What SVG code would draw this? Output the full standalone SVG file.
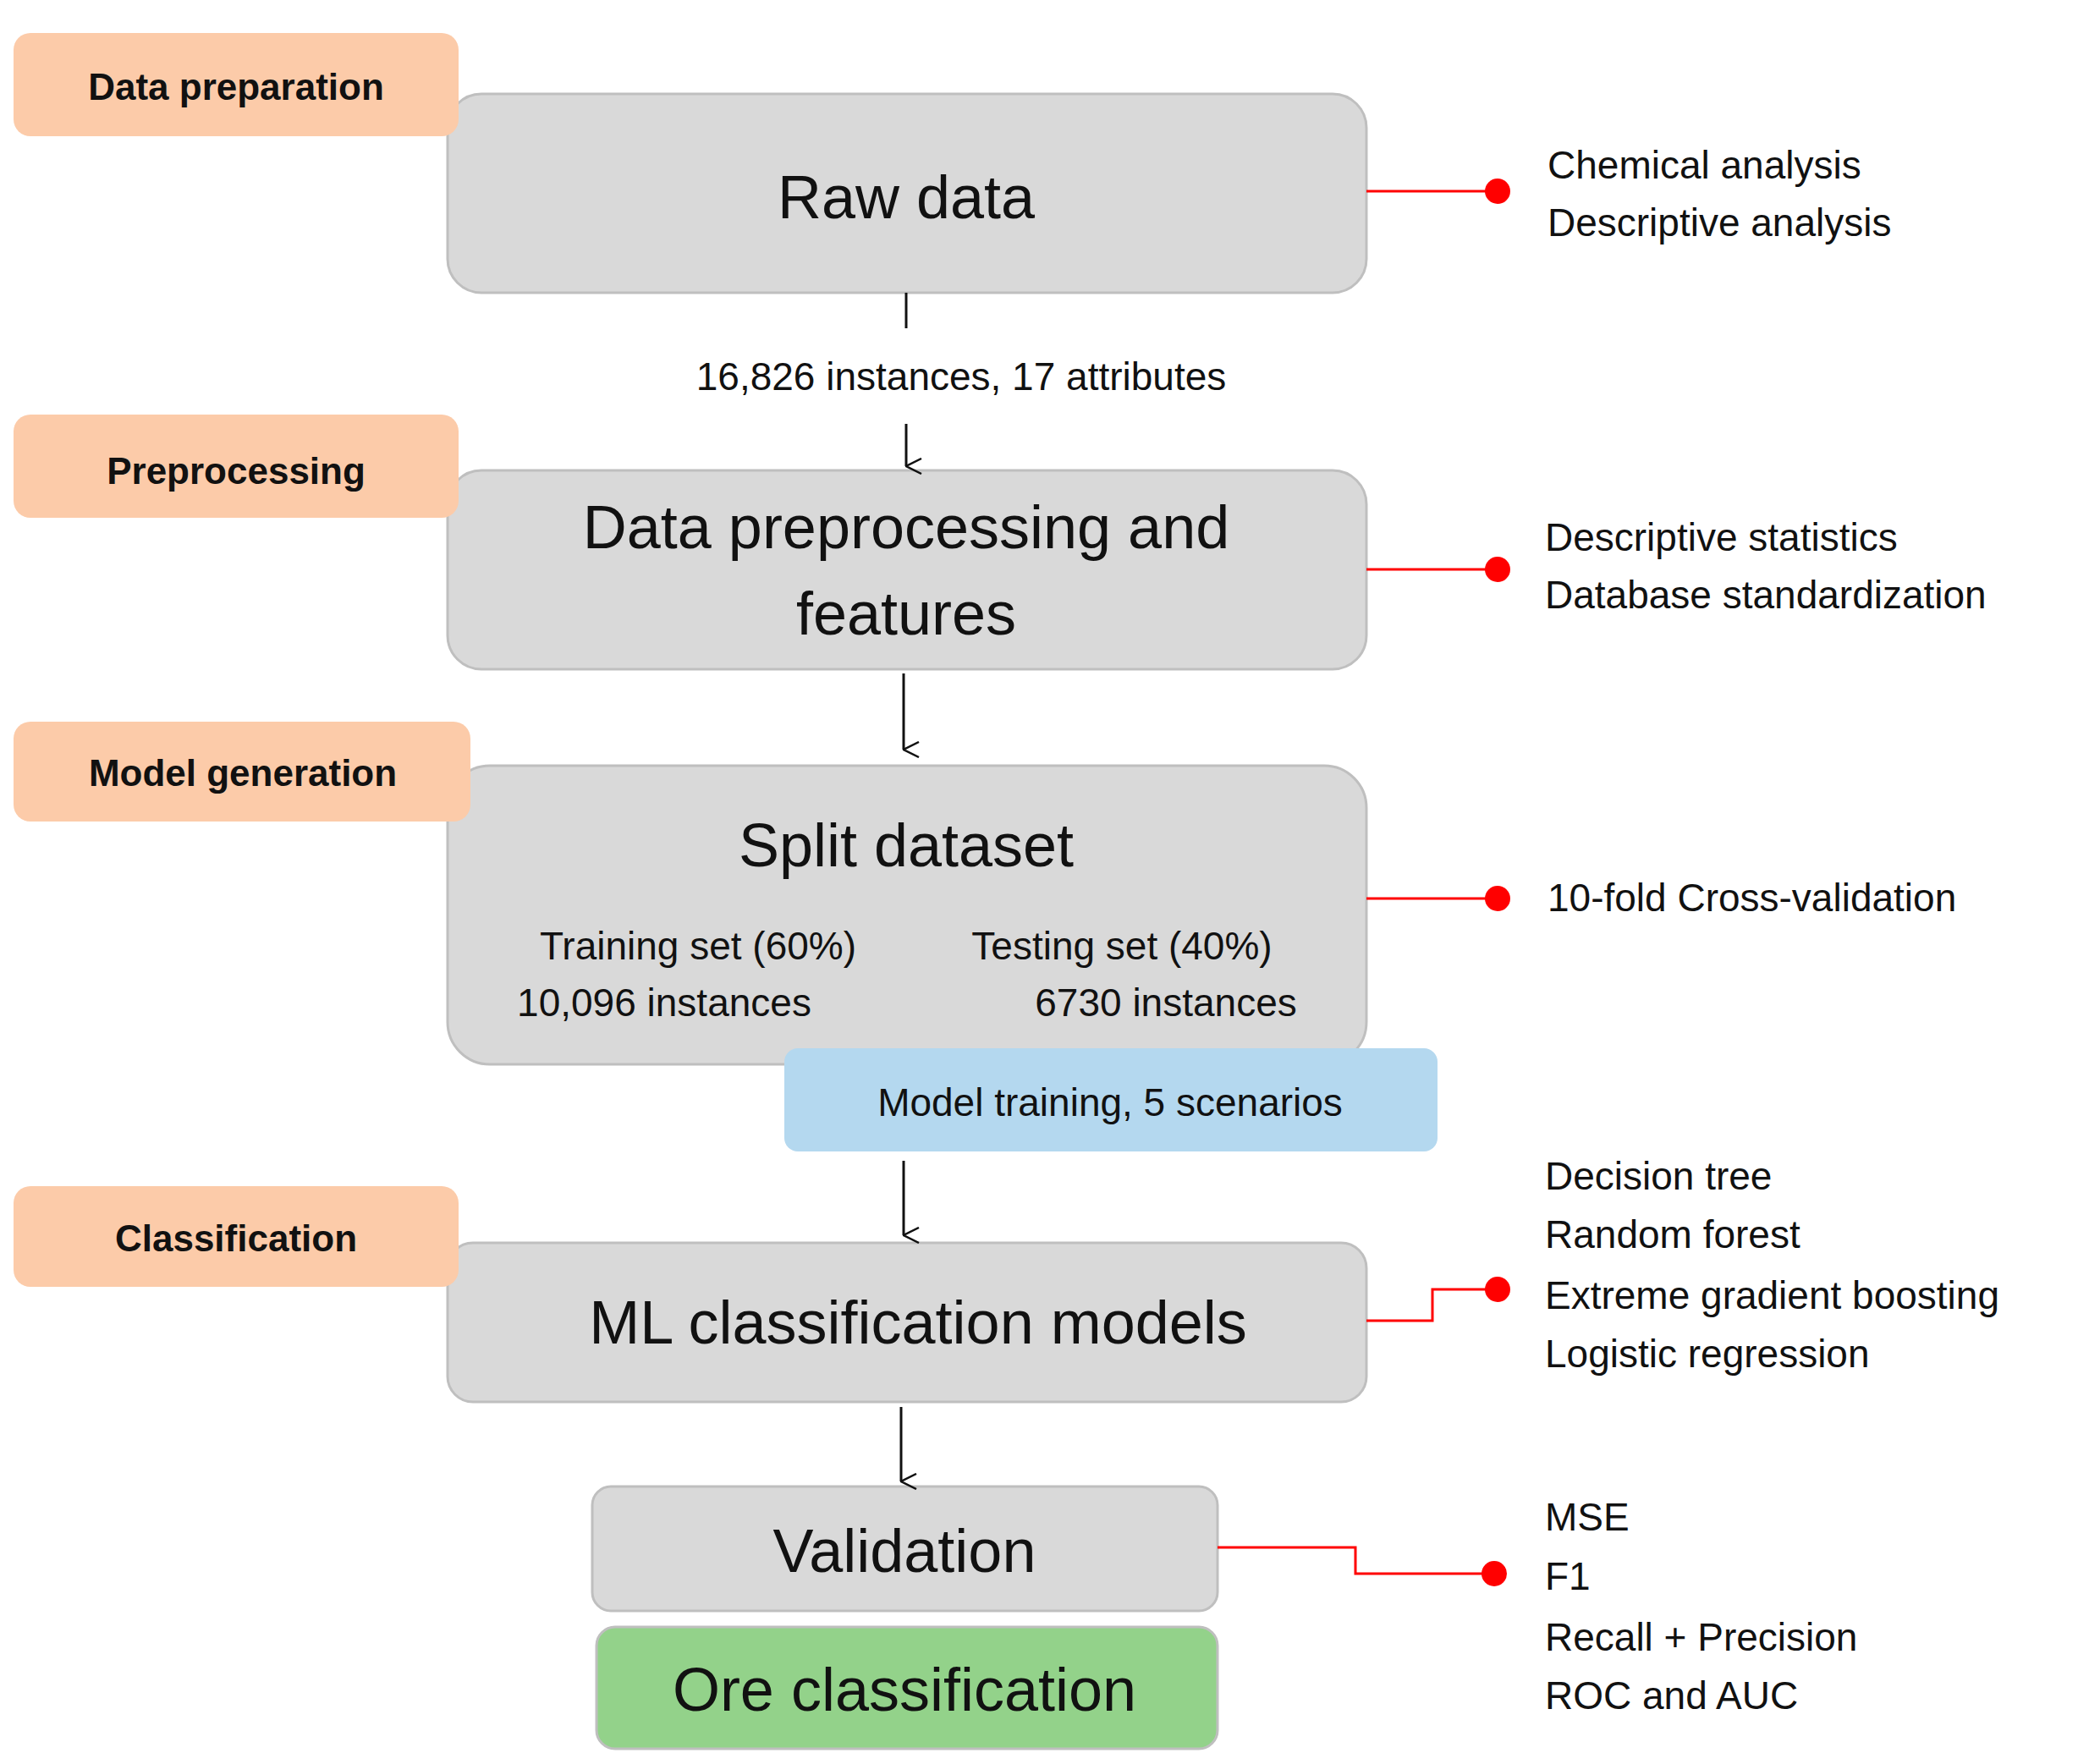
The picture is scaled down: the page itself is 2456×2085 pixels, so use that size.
<svg xmlns="http://www.w3.org/2000/svg" width="2456" height="2085" viewBox="0 0 2456 2085">
<defs>
<style>
text{font-family:"Liberation Sans",Arial,sans-serif;fill:#111}
.lab rect{fill:#FCCBA9}
.lab text{font-weight:bold;font-size:44px;text-anchor:middle}
.box{fill:#D9D9D9;stroke:#BFBFBF;stroke-width:3}
.big{font-size:72px;text-anchor:middle}
.mid{font-size:46px}
.side{font-size:46px}
.red{fill:none;stroke:#FF0000;stroke-width:3}
.dot{fill:#FF0000}
.blk{fill:none;stroke:#111;stroke-width:3}
</style>
<marker id="ar" viewBox="0 0 20 20" refX="10" refY="19" markerWidth="20" markerHeight="20" markerUnits="userSpaceOnUse" orient="auto-start-reverse">
<path d="M1 1 L10 19 L19 1" fill="none" stroke="#111" stroke-width="2.5"/>
</marker>
</defs>
<rect width="2456" height="2085" fill="#fff"/>
<g id="raw"><rect class="box" x="529" y="111" width="1086" height="235" rx="40"/><text class="big" x="1071" y="258">Raw data</text></g>
<g id="prep"><rect class="box" x="529" y="556" width="1086" height="235" rx="40"/><text class="big" x="1071" y="648">Data preprocessing and</text><text class="big" x="1071" y="750">features</text></g>
<g id="split"><rect class="box" x="529" y="905" width="1086" height="353" rx="50"/><text class="big" x="1071" y="1024">Split dataset</text>
<text class="mid" x="825" y="1134" text-anchor="middle">Training set (60%)</text><text class="mid" x="785" y="1201" text-anchor="middle">10,096 instances</text>
<text class="mid" x="1326" y="1134" text-anchor="middle">Testing set (40%)</text><text class="mid" x="1378" y="1201" text-anchor="middle">6730 instances</text></g>
<g id="train"><rect x="927" y="1239" width="772" height="122" rx="16" fill="#B4D8EF"/><text class="mid" x="1312" y="1319" text-anchor="middle">Model training, 5 scenarios</text></g>
<g id="ml"><rect class="box" x="529" y="1469" width="1086" height="188" rx="30"/><text class="big" x="1085" y="1588">ML classification models</text></g>
<g id="val"><rect class="box" x="700" y="1757" width="739" height="147" rx="22"/><text class="big" x="1069" y="1858">Validation</text></g>
<g id="ore"><rect x="705" y="1923" width="734" height="144" rx="22" fill="#93D28A" stroke="#BFBFBF" stroke-width="3"/><text class="big" x="1069" y="2022">Ore classification</text></g>
<g id="l1" class="lab"><rect x="16" y="39" width="526" height="122" rx="20"/><text x="279" y="118">Data preparation</text></g>
<g id="l2" class="lab"><rect x="16" y="490" width="526" height="122" rx="20"/><text x="279" y="572">Preprocessing</text></g>
<g id="l3" class="lab"><rect x="16" y="853" width="540" height="118" rx="20"/><text x="287" y="929">Model generation</text></g>
<g id="l4" class="lab"><rect x="16" y="1402" width="526" height="119" rx="20"/><text x="279" y="1479">Classification</text></g>
<g id="s1"><text class="side" x="1829" y="211">Chemical analysis</text><text class="side" x="1829" y="279">Descriptive analysis</text></g>
<g id="s2"><text class="side" x="1826" y="651">Descriptive statistics</text><text class="side" x="1826" y="719">Database standardization</text></g>
<g id="s3"><text class="side" x="1829" y="1077">10-fold Cross-validation</text></g>
<g id="s4"><text class="side" x="1826" y="1406">Decision tree</text><text class="side" x="1826" y="1475">Random forest</text><text class="side" x="1826" y="1547">Extreme gradient boosting</text><text class="side" x="1826" y="1616">Logistic regression</text></g>
<g id="s5"><text class="side" x="1826" y="1809">MSE</text><text class="side" x="1826" y="1879">F1</text><text class="side" x="1826" y="1951">Recall + Precision</text><text class="side" x="1826" y="2020">ROC and AUC</text></g>
<text class="mid" x="1136" y="461" text-anchor="middle">16,826 instances, 17 attributes</text>
<g id="connectors">
<path class="blk" d="M1071 346 V388"/>
<path class="blk" d="M1071 501 V551" marker-end="url(#ar)"/>
<path class="blk" d="M1068 796 V886" marker-end="url(#ar)"/>
<path class="blk" d="M1068 1372 V1460" marker-end="url(#ar)"/>
<path class="blk" d="M1065 1663 V1751" marker-end="url(#ar)"/>
<path class="red" d="M1615 226 H1770"/><circle class="dot" cx="1770" cy="226" r="15"/>
<path class="red" d="M1615 673 H1770"/><circle class="dot" cx="1770" cy="673" r="15"/>
<path class="red" d="M1615 1062 H1770"/><circle class="dot" cx="1770" cy="1062" r="15"/>
<path class="red" d="M1615 1561 H1693 V1524 H1770"/><circle class="dot" cx="1770" cy="1524" r="15"/>
<path class="red" d="M1439 1829 H1602 V1860 H1766"/><circle class="dot" cx="1766" cy="1860" r="15"/>
</g>
</svg>
